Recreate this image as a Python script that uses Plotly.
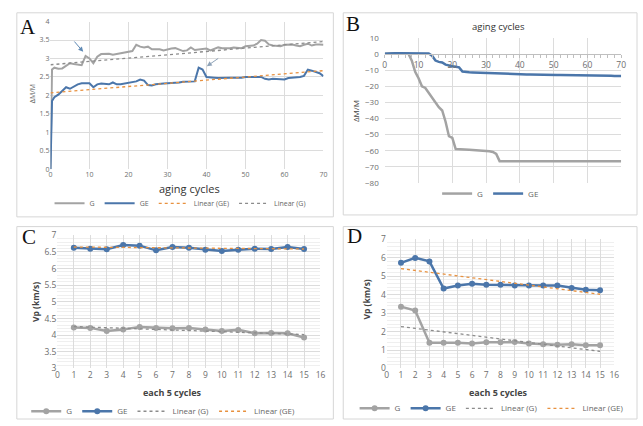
import plotly.graph_objects as go

W, H = 643, 426

def fx(x):
    return x / W

def fy(y):
    return 1 - y / H

# ---------------- Data ----------------
# Panel A: mass change vs aging cycles
a_cycles = [0, 0.4] + list(range(1, 71))
a_G = [0, 2.7,
       2.75, 2.72, 2.73, 2.80, 2.87, 2.85, 2.83, 2.82, 3.07, 3.00,
       2.87, 3.05, 3.12, 3.12, 3.13, 3.10, 3.12, 3.15, 3.18, 3.18,
       3.20, 3.37, 3.32, 3.30, 3.32, 3.25, 3.25, 3.25, 3.22, 3.25,
       3.27, 3.28, 3.25, 3.20, 3.22, 3.30, 3.23, 3.25, 3.25, 3.27,
       3.22, 3.25, 3.30, 3.28, 3.27, 3.28, 3.30, 3.30, 3.28, 3.33,
       3.33, 3.35, 3.40, 3.50, 3.48, 3.38, 3.35, 3.35, 3.33, 3.37,
       3.37, 3.38, 3.35, 3.33, 3.37, 3.40, 3.35, 3.38, 3.38, 3.37]
a_GE = [0, 1.85,
        1.95, 2.02, 2.12, 2.22, 2.18, 2.25, 2.30, 2.33, 2.33, 2.33,
        2.22, 2.30, 2.32, 2.32, 2.30, 2.35, 2.30, 2.30, 2.32, 2.33,
        2.35, 2.38, 2.43, 2.40, 2.28, 2.27, 2.30, 2.32, 2.32, 2.33,
        2.33, 2.35, 2.35, 2.37, 2.38, 2.38, 2.38, 2.75, 2.70, 2.50,
        2.50, 2.48, 2.47, 2.48, 2.48, 2.48, 2.48, 2.47, 2.48, 2.50,
        2.50, 2.50, 2.48, 2.50, 2.45, 2.43, 2.45, 2.45, 2.45, 2.43,
        2.47, 2.48, 2.47, 2.50, 2.53, 2.70, 2.67, 2.63, 2.60, 2.52]
a_trend_x = [0, 70]
a_trend_G = [2.83, 3.46]
a_trend_GE = [2.07, 2.67]

# Panel B: mass change vs aging cycles
b_cycles = list(range(0, 71))
b_G = [0.3, 0.5, 0.6, 0.6, 0.6, 0.5, 0.5, 0.3, -4, -11,
       -15, -20, -21, -24, -27, -30, -33, -35, -42, -51,
       -52, -59, -59, -59.2, -59.3, -59.4, -59.5, -59.6, -59.8, -60,
       -60.2, -60.3, -60.8, -62, -66.5, -66.5, -66.5, -66.5, -66.5, -66.5,
       -66.5, -66.5, -66.5, -66.5, -66.5, -66.5, -66.5, -66.5, -66.5, -66.5,
       -66.5, -66.5, -66.5, -66.5, -66.5, -66.5, -66.5, -66.5, -66.5, -66.5,
       -66.5, -66.5, -66.5, -66.5, -66.5, -66.5, -66.5, -66.5, -66.5, -66.5,
       -66.5]
b_GE = [0.2, 0.4, 0.5, 0.5, 0.5, 0.5, 0.5, 0.5, 0.5, 0.5,
        0.6, 0.6, 0.6, 0.4, -1, -4, -4.8, -5.2, -6.5, -7.2,
        -7.5, -7.8, -8.2, -10.8, -11.2, -11.3, -11.4, -11.5, -11.6, -11.7,
        -11.8, -11.9, -12, -12, -12.1, -12.2, -12.2, -12.3, -12.3, -12.4,
        -12.5, -12.5, -12.6, -12.6, -12.7, -12.7, -12.8, -12.8, -12.8, -12.9,
        -13, -13, -13, -13, -13.1, -13.1, -13.1, -13.1, -13.2, -13.2,
        -13.2, -13.2, -13.3, -13.3, -13.3, -13.4, -13.4, -13.4, -13.5, -13.5,
        -13.5]

# Panel C: Vp each 5 cycles
c_steps = list(range(1, 16))
c_G = [4.23, 4.22, 4.13, 4.17, 4.25, 4.22, 4.21, 4.22, 4.17, 4.13, 4.16, 4.06, 4.07, 4.06, 3.93]
c_GE = [6.63, 6.60, 6.58, 6.71, 6.69, 6.55, 6.65, 6.63, 6.57, 6.53, 6.57, 6.60, 6.59, 6.65, 6.59]
c_trend_x = [1, 15]
c_trend_G = [4.26, 4.02]
c_trend_GE = [6.65, 6.59]

# Panel D: Vp each 5 cycles
d_steps = list(range(1, 16))
d_G = [3.35, 3.14, 1.40, 1.40, 1.40, 1.35, 1.42, 1.42, 1.43, 1.36, 1.31, 1.29, 1.31, 1.26, 1.26]
d_GE = [5.72, 5.99, 5.80, 4.33, 4.49, 4.59, 4.54, 4.54, 4.50, 4.50, 4.50, 4.49, 4.36, 4.26, 4.24]
d_trend_x = [1, 15]
d_trend_G = [2.27, 0.93]
d_trend_GE = [5.41, 4.02]

# ---------------- Styles ----------------
GRAY = "#a3a3a3"
BLUE = "#4b76aa"
ORANGE = "#e8913f"
TDOT = "#8c8c8c"
GRID = "#dcdcdc"
MINOR = "#efefef"
TICK = "#6e6e6e"
FONT = "Open Sans"

fig = go.Figure()

# Panel A traces (legend order: G, GE, Linear (GE), Linear (G))
fig.add_trace(go.Scatter(x=a_cycles, y=a_G, mode="lines", name="G",
                         line=dict(color=GRAY, width=2), xaxis="x", yaxis="y", legend="legend"))
fig.add_trace(go.Scatter(x=a_cycles, y=a_GE, mode="lines", name="GE",
                         line=dict(color=BLUE, width=2), xaxis="x", yaxis="y", legend="legend"))
fig.add_trace(go.Scatter(x=a_trend_x, y=a_trend_GE, mode="lines", name="Linear (GE)",
                         line=dict(color=ORANGE, width=1.3, dash="dot"), xaxis="x", yaxis="y", legend="legend"))
fig.add_trace(go.Scatter(x=a_trend_x, y=a_trend_G, mode="lines", name="Linear (G)",
                         line=dict(color=TDOT, width=1.3, dash="dot"), xaxis="x", yaxis="y", legend="legend"))

# Panel B traces
fig.add_trace(go.Scatter(x=b_cycles, y=b_G, mode="lines", name="G",
                         line=dict(color=GRAY, width=2.5), xaxis="x2", yaxis="y2", legend="legend2"))
fig.add_trace(go.Scatter(x=b_cycles, y=b_GE, mode="lines", name="GE",
                         line=dict(color=BLUE, width=2.5), xaxis="x2", yaxis="y2", legend="legend2"))

# Panel C traces
fig.add_trace(go.Scatter(x=c_steps, y=c_G, mode="lines+markers", name="G",
                         line=dict(color=GRAY, width=2.5), marker=dict(size=6, color=GRAY),
                         xaxis="x3", yaxis="y3", legend="legend3"))
fig.add_trace(go.Scatter(x=c_steps, y=c_GE, mode="lines+markers", name="GE",
                         line=dict(color=BLUE, width=2.5), marker=dict(size=6, color=BLUE),
                         xaxis="x3", yaxis="y3", legend="legend3"))
fig.add_trace(go.Scatter(x=c_trend_x, y=c_trend_G, mode="lines", name="Linear (G)",
                         line=dict(color=TDOT, width=1.3, dash="dot"), xaxis="x3", yaxis="y3", legend="legend3"))
fig.add_trace(go.Scatter(x=c_trend_x, y=c_trend_GE, mode="lines", name="Linear (GE)",
                         line=dict(color=ORANGE, width=1.3, dash="dot"), xaxis="x3", yaxis="y3", legend="legend3"))

# Panel D traces
fig.add_trace(go.Scatter(x=d_steps, y=d_G, mode="lines+markers", name="G",
                         line=dict(color=GRAY, width=2.5), marker=dict(size=6, color=GRAY),
                         xaxis="x4", yaxis="y4", legend="legend4"))
fig.add_trace(go.Scatter(x=d_steps, y=d_GE, mode="lines+markers", name="GE",
                         line=dict(color=BLUE, width=2.5), marker=dict(size=6, color=BLUE),
                         xaxis="x4", yaxis="y4", legend="legend4"))
fig.add_trace(go.Scatter(x=d_trend_x, y=d_trend_G, mode="lines", name="Linear (G)",
                         line=dict(color=TDOT, width=1.3, dash="dot"), xaxis="x4", yaxis="y4", legend="legend4"))
fig.add_trace(go.Scatter(x=d_trend_x, y=d_trend_GE, mode="lines", name="Linear (GE)",
                         line=dict(color=ORANGE, width=1.3, dash="dot"), xaxis="x4", yaxis="y4", legend="legend4"))

# ---------------- Axes ----------------
domA = dict(x=[fx(49), fx(325)], y=[fy(168), fy(16)])
domB = dict(x=[fx(387), fx(626)], y=[fy(182), fy(33)])
domC = dict(x=[fx(56), fx(322)], y=[fy(373), fy(236)])
domD = dict(x=[fx(389), fx(619)], y=[fy(373), fy(240)])

def axis_common(size):
    return dict(showgrid=True, gridcolor=GRID, gridwidth=1, zeroline=False,
                showline=False, ticks="", tickfont=dict(family=FONT, size=size, color=TICK))

b_ymin, b_ymax = -80, 10
b_axis_pos = domB["y"][0] + (0 - b_ymin) / (b_ymax - b_ymin) * (domB["y"][1] - domB["y"][0])

fig.update_layout(
    xaxis=dict(domain=domA["x"], anchor="y", range=[0, 70], dtick=10, **axis_common(7)),
    yaxis=dict(domain=domA["y"], anchor="x", range=[0, 4], dtick=0.5, **axis_common(7)),
    xaxis2=dict(domain=domB["x"], anchor="free", position=b_axis_pos, range=[0, 70], dtick=10,
                showgrid=True, gridcolor=GRID, zeroline=False, showline=True, linecolor="#bfbfbf",
                ticks="outside", ticklen=3, tickcolor="#bfbfbf",
                minor=dict(ticks="outside", dtick=2, ticklen=3, tickcolor="#bfbfbf"),
                tickfont=dict(family=FONT, size=8.5, color=TICK)),
    yaxis2=dict(domain=domB["y"], anchor="x2", range=[b_ymin, b_ymax], dtick=10, **axis_common(8)),
    xaxis3=dict(domain=domC["x"], anchor="y3", range=[0, 16], dtick=1, **axis_common(8.5)),
    yaxis3=dict(domain=domC["y"], anchor="x3", range=[3, 7], dtick=0.5,
                minor=dict(dtick=0.1, showgrid=True, gridcolor=MINOR), **axis_common(8.5)),
    xaxis4=dict(domain=domD["x"], anchor="y4", range=[0, 16], dtick=1, **axis_common(8.5)),
    yaxis4=dict(domain=domD["y"], anchor="x4", range=[0, 7], dtick=1,
                minor=dict(dtick=0.2, showgrid=True, gridcolor=MINOR), **axis_common(8.5)),
)
fig.layout.yaxis2.ticklabelstandoff = 5

# ---------------- Legends ----------------
def leg(x, y, size):
    return dict(orientation="h", x=fx(x), y=fy(y), xanchor="center", yanchor="middle",
                font=dict(family=FONT, size=size, color="#666"), bgcolor="rgba(0,0,0,0)",
                itemwidth=30, tracegroupgap=0)

fig.update_layout(
    legend=leg(180, 203, 7),
    legend2=leg(494, 193, 8),
    legend3=leg(163, 417, 8),
    legend4=leg(495, 414, 8),
)

# ---------------- Boxes, labels ----------------
boxes = [(15, 7, 335, 217), (345, 7, 642, 215), (15, 227, 335, 425), (345, 227, 642, 425)]
shapes = []
for (x0, y0, x1, y1) in boxes:
    shapes.append(dict(type="rect", xref="paper", yref="paper", x0=fx(x0), y0=fy(y1), x1=fx(x1), y1=fy(y0),
                       line=dict(color="#d6d6d6", width=1), fillcolor="rgba(0,0,0,0)", layer="below"))

def ann(text, x, y, size, color="#404040", angle=0, family=FONT, bold=False):
    t = f"<b>{text}</b>" if bold else text
    return dict(text=t, x=fx(x), y=fy(y), xref="paper", yref="paper", showarrow=False,
                font=dict(family=family, size=size, color=color), textangle=angle,
                xanchor="center", yanchor="middle")

annotations = [
    ann("A", 26, 22, 21, "#111", family="Liberation Serif"),
    ann("B", 355, 19, 21, "#111", family="Liberation Serif"),
    ann("C", 27, 238, 21, "#111", family="Liberation Serif"),
    ann("D", 356, 237, 21, "#111", family="Liberation Serif"),
    ann("ΔM/M", 31, 90, 7, "#555", angle=-90),
    ann("aging cycles", 190, 188, 11, "#333"),
    ann("aging cycles", 502, 21, 9.5, "#333"),
    ann("ΔM/M", 358, 108, 8, "#444", angle=-90),
    ann("Vp (km/s)", 34, 305, 8.5, "#444", angle=-90, bold=True),
    ann("each 5 cycles", 172, 398, 9, "#444", bold=True),
    ann("Vp (km/s)", 368, 302, 8.5, "#444", angle=-90, bold=True),
    ann("each 5 cycles", 502, 398, 9, "#444", bold=True),
    # arrows in panel A
    dict(x=8.4, y=3.18, ax=5.8, ay=3.5, xref="x", yref="y", axref="x", ayref="y",
         showarrow=True, arrowhead=2, arrowsize=1, arrowwidth=1, arrowcolor="#5f8ab5", text=""),
    dict(x=40.1, y=2.79, ax=43.4, ay=3.03, xref="x", yref="y", axref="x", ayref="y",
         showarrow=True, arrowhead=2, arrowsize=1, arrowwidth=1, arrowcolor="#8fa3b8", text=""),
]

fig.update_layout(
    width=W, height=H,
    margin=dict(l=0, r=0, t=0, b=0),
    paper_bgcolor="white", plot_bgcolor="white",
    font=dict(family=FONT, color="#444"),
    shapes=shapes, annotations=annotations,
)

# remove the browser's default page margin so the figure fills the window exactly
fig.write_html("out.html", config={"displayModeBar": False},
               post_script="document.body.style.margin='0';")
